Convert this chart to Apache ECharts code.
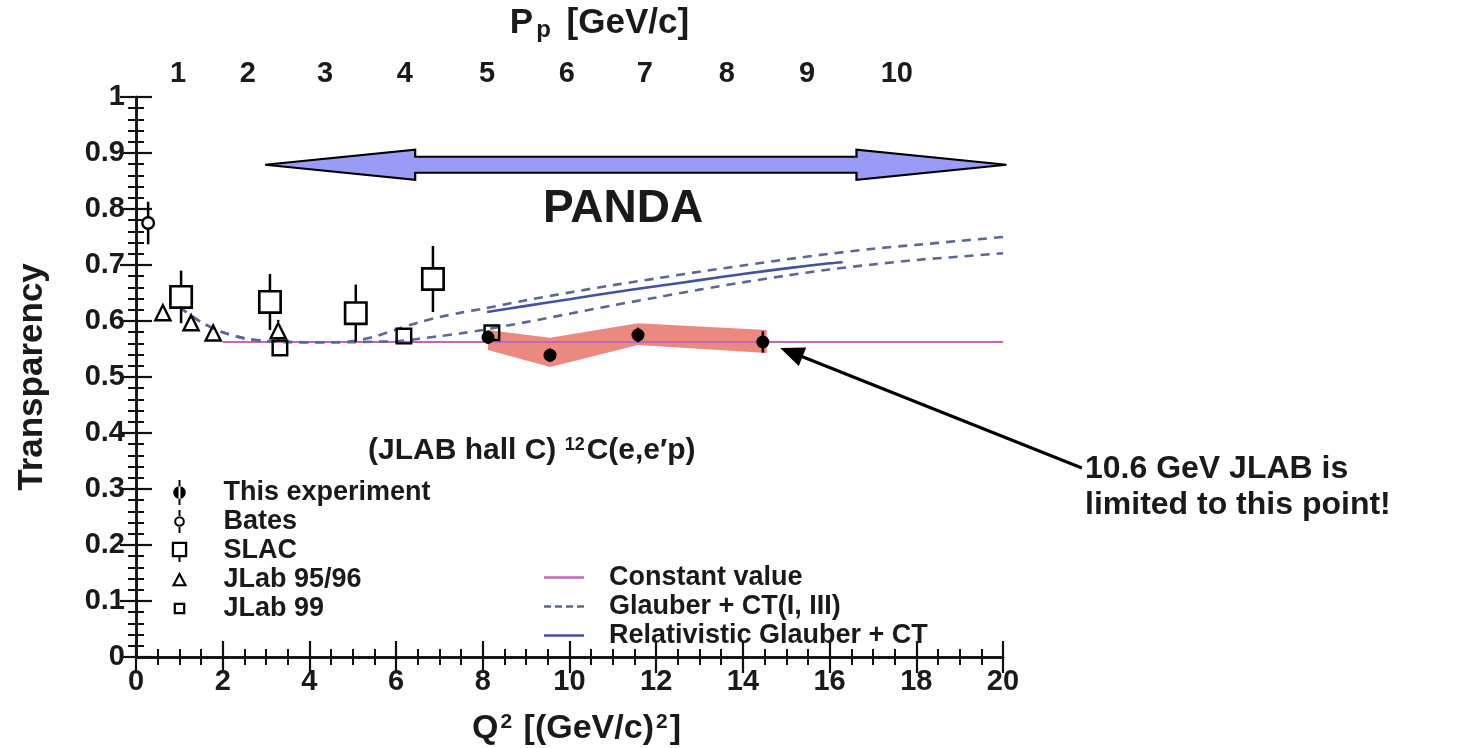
<!DOCTYPE html>
<html><head><meta charset="utf-8">
<script src="https://cdn.jsdelivr.net/npm/echarts@6/dist/echarts.min.js"></script>
<style>html,body{margin:0;padding:0;background:#fff}#c{width:1468px;height:748px}</style>
</head><body><div id="c"></div>
<script>
// ---------------- data ----------------
const thisExpQ2 = [8.12, 9.55, 11.58, 14.46];
const thisExpT  = [0.571, 0.539, 0.575, 0.5625];
const thisExpErr = [0.012, 0.012, 0.013, 0.019];

const batesQ2 = [0.28];
const batesT  = [0.775];
const batesErr = [0.038];

const slacQ2 = [1.04, 3.09, 5.07, 6.85];
const slacT  = [0.643, 0.634, 0.614, 0.675];
const slacErr = [0.047, 0.05, 0.051, 0.059];

const jlab9596Q2 = [0.62, 1.27, 1.78, 3.28];
const jlab9596T  = [0.616, 0.598, 0.580, 0.584];
const jlab9596Err = [0.006, 0.006, 0.006, 0.018];

const jlab99Q2 = [3.32, 6.18, 8.21];
const jlab99T  = [0.552, 0.573, 0.579];
const jlab99Err = [0.008, 0.008, 0.008];

const bandQ2 = [8.12, 9.55, 11.58, 14.55];
const bandHi = [0.584, 0.570, 0.596, 0.584];
const bandLo = [0.548, 0.518, 0.557, 0.543];

const constQ2 = [2, 20];
const constT  = [0.5625, 0.5625];

const glauberQ2 = [1,1.5,2,2.5,3,3.5,4,4.5,5,5.5,6,6.5,7,7.5,8,9,10,11,12,13,14,15,16,17,18,19,20];
const glauberUpperT = [0.625,0.598,0.580,0.569,0.564,0.562,0.562,0.562,0.564,0.572,0.585,0.597,0.607,0.615,0.622,0.637,0.651,0.664,0.676,0.688,0.699,0.710,0.720,0.729,0.736,0.743,0.750];
const glauberLowerT = [0.625,0.598,0.580,0.569,0.564,0.563,0.562,0.562,0.562,0.563,0.564,0.568,0.573,0.578,0.584,0.598,0.613,0.628,0.642,0.656,0.669,0.681,0.692,0.701,0.709,0.715,0.721];

const relQ2 = [8.1, 9, 10, 11, 12, 13, 14, 15, 16, 16.3];
const relT  = [0.616, 0.627, 0.639, 0.651, 0.662, 0.673, 0.684, 0.694, 0.703, 0.705];

// top axis: P_p labels and the Q^2 position where each is printed
const pLabels = ['1','2','3','4','5','6','7','8','9','10'];
const pPosQ2  = [0.97, 2.58, 4.36, 6.2, 8.1, 9.94, 11.74, 13.63, 15.48, 17.55];

// annotations (data space)
const pandaRange = [2.98, 20.08, 0.879];
const jlabArrow = [21.82, 0.3375, 14.86, 0.552];

// ---------------- helpers ----------------
const FONT = '"Liberation Sans", Arial, sans-serif';
const TXT = '#1a1a1a';
const pairs = (xs, ys) => xs.map((x, i) => [x, ys[i]]);
const errData = (xs, ys, es) => xs.map((x, i) => [x, ys[i] - es[i], ys[i] + es[i], ys[i]]);

const SYM_RING = 'path://M0,7a7,7 0 1,0 14,0a7,7 0 1,0 -14,0z M2.4,7a4.6,4.6 0 1,1 9.2,0a4.6,4.6 0 1,1 -9.2,0z';
const SYM_SQ = 'path://M0,0H20V20H0Z M2.2,2.2V17.8H17.8V2.2Z';
const SYM_SQ_S = 'path://M0,0H20V20H0Z M2.9,2.9V17.1H17.1V2.9Z';
const SYM_TRI = 'path://M10,0L20,18H0Z M10,5L4.1,15.6H15.9Z';
const CORNERS = 'M0,0h0.01v0.01h-0.01z M29.99,29.99h0.01v0.01h-0.01z ';

function errRender(gap) {
  return function (params, api) {
    const x = api.value(0);
    const lo = api.coord([x, api.value(1)]);
    const hi = api.coord([x, api.value(2)]);
    const c = api.coord([x, api.value(3)]);
    const st = { stroke: '#000', lineWidth: 2.5 };
    const kids = [];
    if (hi[1] < c[1] - gap) kids.push({ type: 'line', shape: { x1: hi[0], y1: hi[1], x2: c[0], y2: c[1] - gap }, style: st });
    if (lo[1] > c[1] + gap) kids.push({ type: 'line', shape: { x1: c[0], y1: c[1] + gap, x2: lo[0], y2: lo[1] }, style: st });
    return { type: 'group', children: kids };
  };
}
function errSeries(name, xs, ys, es, gap) {
  return { type: 'custom', name: name, renderItem: errRender(gap), data: errData(xs, ys, es),
           encode: { x: 0, y: [1, 2] }, itemStyle: { color: '#000' }, z: 4, silent: true };
}
function markSeries(name, xs, ys, symbol, size) {
  return { type: 'scatter', name: name, data: pairs(xs, ys), symbol: symbol, symbolSize: size,
           itemStyle: { color: '#000', borderWidth: 0, opacity: 1 }, z: 5, silent: true };
}

const majorAxis = {
  axisLine: { show: true, lineStyle: { color: '#111', width: 2.5 } },
  axisTick: { show: true, inside: true, length: 16, lineStyle: { color: '#111', width: 2.2 } },
  minorTick: { show: false },
  splitLine: { show: false }
};
const minorAxis = {
  gridIndex: 1, type: 'value', silent: true,
  axisLine: { show: false },
  axisTick: { show: true, inside: true, length: 8, lineStyle: { color: '#111', width: 2 } },
  axisLabel: { show: false },
  splitLine: { show: false }
};
const labelStyle = { fontSize: 29, fontWeight: 'bold', color: TXT, fontFamily: FONT };
const GRID = { left: 136, right: 465, top: 97, bottom: 91, containLabel: false, outerBoundsMode: 'none' };

const option = {
  backgroundColor: '#fff',
  animation: false,
  grid: [Object.assign({}, GRID), Object.assign({}, GRID)],
  xAxis: [
    Object.assign({}, majorAxis, {
      gridIndex: 0, type: 'value', position: 'bottom', min: 0, max: 20, interval: 2,
      axisLabel: Object.assign({ margin: 10 }, labelStyle),
      name: '{b|Q}{s|2}{b| [(GeV/c)}{s|2}{b|]}', nameLocation: 'middle', nameGap: 55,
      nameTextStyle: { rich: {
        b: { fontSize: 34, fontWeight: 'bold', color: TXT, fontFamily: FONT },
        s: { fontSize: 21, fontWeight: 'bold', color: TXT, fontFamily: FONT, verticalAlign: 'top', padding: [0,2,0,2] }
      }, padding: [0,0,0,14] }
    }),
    Object.assign({}, majorAxis, {
      gridIndex: 0, type: 'value', position: 'top', min: 0, max: 20, interval: 2,
      axisLabel: Object.assign({ margin: 9, customValues: pPosQ2,
        formatter: function (v) {
          let best = -1, bd = 1e9;
          pPosQ2.forEach((p, i) => { const d = Math.abs(p - v); if (d < bd) { bd = d; best = i; } });
          return bd < 0.01 ? pLabels[best] : '';
        } }, labelStyle),
      name: '{b|P}{s|p}{b| [GeV/c]}', nameLocation: 'middle', nameGap: 55,
      nameTextStyle: { rich: {
        b: { fontSize: 35, fontWeight: 'bold', color: TXT, fontFamily: FONT },
        s: { fontSize: 24, fontWeight: 'bold', color: TXT, fontFamily: FONT, verticalAlign: 'bottom', padding: [14,6,0,3] }
      }, padding: [0,0,0,60] }
    }),
    Object.assign({}, minorAxis, { position: 'bottom', min: 0, max: 20, interval: 0.5 }),
    Object.assign({}, minorAxis, { position: 'top', min: 0, max: 20, interval: 0.5 })
  ],
  yAxis: [
    Object.assign({}, majorAxis, {
      gridIndex: 0, type: 'value', position: 'left', min: 0, max: 1, interval: 0.1,
      axisLabel: Object.assign({ margin: 11 }, labelStyle),
      name: 'Transparency', nameLocation: 'middle', nameGap: 86, nameRotate: 90,
      nameTextStyle: { fontSize: 35, fontWeight: 'bold', color: TXT, fontFamily: FONT }
    }),
    Object.assign({}, majorAxis, {
      gridIndex: 0, type: 'value', position: 'right', min: 0, max: 1, interval: 0.1,
      axisLabel: { show: false }
    }),
    Object.assign({}, minorAxis, { position: 'left', min: 0, max: 1, interval: 0.02 }),
    Object.assign({}, minorAxis, { position: 'right', min: 0, max: 1, interval: 0.02 })
  ],
  legend: [
    {
      data: [
        { name: 'This experiment', icon: 'path://' + CORNERS + 'M14,2h2v26h-2z M8.5,15a6.5,6.5 0 1,0 13,0a6.5,6.5 0 1,0 -13,0z' },
        { name: 'Bates', icon: 'path://' + CORNERS + 'M14,3h2v7h-2z M14,20h2v7h-2z M9.5,15a5.5,5.5 0 1,0 11,0a5.5,5.5 0 1,0 -11,0z M11.6,15a3.4,3.4 0 1,1 6.8,0a3.4,3.4 0 1,1 -6.8,0z' },
        { name: 'SLAC', icon: 'path://' + CORNERS + 'M7,6H23V22H7Z M9.4,8.4V19.6H20.6V8.4Z M14,22h2v5h-2z' },
        { name: 'JLab 95/96', icon: 'path://' + CORNERS + 'M15,7L23,22H7Z M15,11.6L10.6,19.8H19.4Z' },
        { name: 'JLab 99', icon: 'path://' + CORNERS + 'M9,9H21V21H9Z M11.3,11.3V18.7H18.7V11.3Z' }
      ],
      orient: 'vertical', left: 160, top: 473, itemWidth: 78, itemHeight: 29, itemGap: 0,
      selectedMode: false,
      itemStyle: { color: '#000' },
      textStyle: { fontSize: 27, fontWeight: 'bold', color: TXT, fontFamily: FONT, lineHeight: 29 }
    },
    {
      data: [
        { name: 'Constant value', icon: 'path://M0,0h40v2.4h-40z' },
        { name: 'Glauber + CT(I, III)', icon: 'path://M0,0h7v2.4h-7z M11,0h7v2.4h-7z M22,0h7v2.4h-7z M33,0h7v2.4h-7z' },
        { name: 'Relativistic Glauber + CT', icon: 'path://M0,0h40v2.6h-40z' }
      ],
      orient: 'vertical', left: 539, top: 558, itemWidth: 40, itemHeight: 22, itemGap: 0,
      selectedMode: false,
      textStyle: { fontSize: 27, fontWeight: 'bold', color: TXT, fontFamily: FONT, lineHeight: 29, padding: [0,0,0,20] }
    }
  ],
  series: [
    markSeries('This experiment', thisExpQ2, thisExpT, 'circle', 13),
    markSeries('Bates', batesQ2, batesT, SYM_RING, 14),
    markSeries('SLAC', slacQ2, slacT, SYM_SQ, 24),
    markSeries('JLab 95/96', jlab9596Q2, jlab9596T, SYM_TRI, 19),
    markSeries('JLab 99', jlab99Q2, jlab99T, SYM_SQ_S, 17),

    { type: 'custom', name: 'band', silent: true, z: 1,
      data: bandQ2.map((q, i) => [q, bandLo[i], bandHi[i]]), encode: { x: 0, y: [1, 2] },
      renderItem: function (params, api) {
        if (params.dataIndex !== 0) return { type: 'group', children: [] };
        const top = bandQ2.map((q, i) => api.coord([q, bandHi[i]]));
        const bot = bandQ2.map((q, i) => api.coord([q, bandLo[i]])).reverse();
        return { type: 'polygon', shape: { points: top.concat(bot) },
                 style: { fill: 'rgba(228,98,86,0.75)' } };
      } },
    { type: 'line', name: 'Constant value', data: pairs(constQ2, constT), symbol: 'none', showSymbol: false,
      lineStyle: { color: '#c167b6', width: 2.2 }, itemStyle: { color: '#c167b6' }, z: 2, silent: true },
    { type: 'line', name: 'Glauber + CT(I, III)', data: pairs(glauberQ2, glauberUpperT), symbol: 'none', showSymbol: false,
      smooth: 0.3, lineStyle: { color: '#5a6892', width: 2.6, type: [9, 7] }, itemStyle: { color: '#5a6892' }, z: 3, silent: true },
    { type: 'line', name: 'Glauber + CT(I, III)', data: pairs(glauberQ2, glauberLowerT), symbol: 'none', showSymbol: false,
      smooth: 0.3, lineStyle: { color: '#5a6892', width: 2.6, type: [9, 7] }, itemStyle: { color: '#5a6892' }, z: 3, silent: true },
    { type: 'line', name: 'Relativistic Glauber + CT', data: pairs(relQ2, relT), symbol: 'none', showSymbol: false,
      smooth: 0.3, lineStyle: { color: '#4152a0', width: 2.6 }, itemStyle: { color: '#4152a0' }, z: 3, silent: true },

    errSeries('This experiment', thisExpQ2, thisExpT, thisExpErr, 0),
    errSeries('Bates', batesQ2, batesT, batesErr, 6),
    errSeries('SLAC', slacQ2, slacT, slacErr, 11),
    errSeries('JLab 95/96', jlab9596Q2, jlab9596T, jlab9596Err, 8),
    errSeries('JLab 99', jlab99Q2, jlab99T, jlab99Err, 7),

    { type: 'custom', name: 'PANDA arrow', silent: true, z: 6,
      data: [pandaRange], encode: { x: [0, 1], y: 2 },
      renderItem: function (params, api) {
        const a = api.coord([api.value(0), api.value(2)]);
        const b = api.coord([api.value(1), api.value(2)]);
        const y = a[1], hs = 8, hh = 15, hl = 150;
        const pts = [[a[0], y], [a[0] + hl, y - hh], [a[0] + hl, y - hs], [b[0] - hl, y - hs], [b[0] - hl, y - hh],
                     [b[0], y], [b[0] - hl, y + hh], [b[0] - hl, y + hs], [a[0] + hl, y + hs], [a[0] + hl, y + hh]];
        return { type: 'polygon', shape: { points: pts },
                 style: { fill: '#9a9af7', stroke: '#000', lineWidth: 2.2, lineJoin: 'miter' } };
      } },
    { type: 'custom', name: 'JLAB arrow', silent: true, z: 6,
      data: [jlabArrow], encode: { x: [0, 2], y: [1, 3] },
      renderItem: function (params, api) {
        const t = api.coord([api.value(0), api.value(1)]);
        const h = api.coord([api.value(2), api.value(3)]);
        const dx = h[0] - t[0], dy = h[1] - t[1], L = Math.sqrt(dx * dx + dy * dy);
        const ux = dx / L, uy = dy / L, hl = 24, hw = 10;
        const bx = h[0] - ux * hl, by = h[1] - uy * hl;
        return { type: 'group', children: [
          { type: 'line', shape: { x1: t[0], y1: t[1], x2: bx + ux * 2, y2: by + uy * 2 },
            style: { stroke: '#000', lineWidth: 3 } },
          { type: 'polygon', shape: { points: [[h[0], h[1]], [bx - uy * hw, by + ux * hw], [bx + uy * hw, by - ux * hw]] },
            style: { fill: '#000' } }
        ] };
      } }
  ],
  graphic: [
    { type: 'text', left: 543, top: 186, style: { text: 'PANDA', fontSize: 46, fontWeight: 'bold', fill: TXT, fontFamily: FONT } },
    { type: 'text', left: 368, top: 436, style: {
        text: '(JLAB hall C) {s|12}C(e,e′p)', fontSize: 30, fontWeight: 'bold', fill: TXT, fontFamily: FONT,
        rich: { s: { fontSize: 18, fontWeight: 'bold', fill: TXT, fontFamily: FONT, verticalAlign: 'top', padding: [0, 2, 0, 0] } } } },
    { type: 'text', left: 1085, top: 451, style: {
        text: '10.6 GeV JLAB is\nlimited to this point!', fontSize: 32, fontWeight: 'bold', fill: TXT, fontFamily: FONT, lineHeight: 36 } }
  ]
};

const chart = echarts.init(document.getElementById('c'), null, { renderer: 'canvas' });
chart.setOption(option);
</script>
</body></html>
